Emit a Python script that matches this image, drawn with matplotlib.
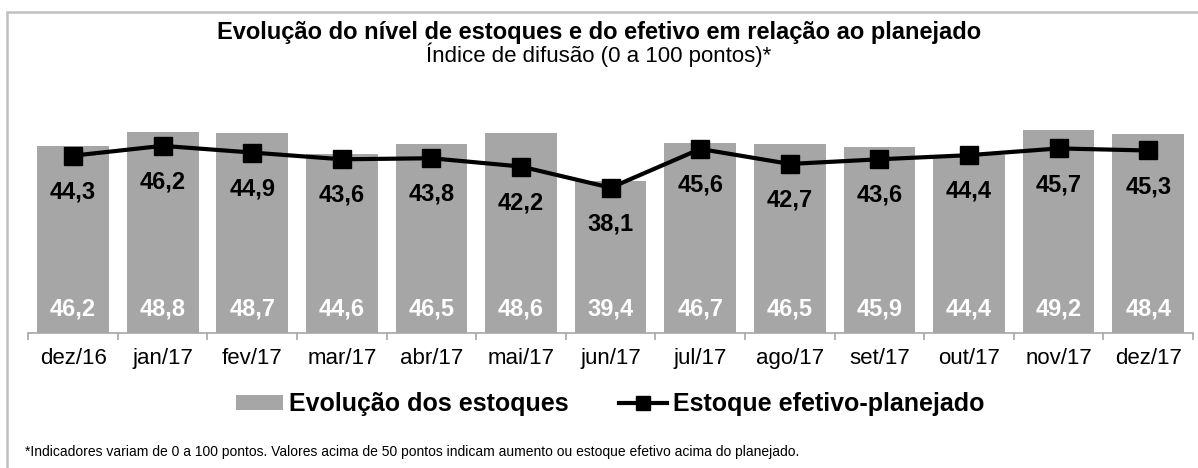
import numpy as np
import matplotlib
matplotlib.use('Agg')
import matplotlib.pyplot as plt
from matplotlib.patches import Rectangle, Patch
from matplotlib.lines import Line2D

# ============================================================
# dados
# ============================================================
meses = ['dez/16', 'jan/17', 'fev/17', 'mar/17', 'abr/17', 'mai/17', 'jun/17',
         'jul/17', 'ago/17', 'set/17', 'out/17', 'nov/17', 'dez/17']
estoques = [46.2, 48.8, 48.7, 44.6, 46.5, 48.6, 39.4, 46.7, 46.5, 45.9, 44.4, 49.2, 48.4]
efetivo_planejado = [44.3, 46.2, 44.9, 43.6, 43.8, 42.2, 38.1, 45.6, 42.7, 43.6, 44.4, 45.7, 45.3]

titulo = 'Evolução do nível de estoques e do efetivo em relação ao planejado'
subtitulo = 'Índice de difusão (0 a 100 pontos)*'
nota = ('*Indicadores variam de 0 a 100 pontos. Valores acima de 50 pontos indicam '
        'aumento ou estoque efetivo acima do planejado.')

plt.rcParams['font.family'] = ['Liberation Sans', 'DejaVu Sans']

BAR_COLOR = '#a6a6a6'
W, H = 1198, 468

fig = plt.figure(figsize=(W / 100, H / 100), dpi=100)

# moldura (só aparece esquerda e topo)
fig.patches.append(Rectangle((7 / W, -0.2), 1.2, 1 - 12 / H + 0.2, transform=fig.transFigure,
                             fill=False, edgecolor='#c0c0c0', linewidth=1.8))

ax = fig.add_axes([28.3 / W, 1 - 333 / H, (1193 - 28.3) / W, (333 - 74.5) / H])
x = np.arange(len(meses))

ax.bar(x, estoques, width=0.8, color=BAR_COLOR, zorder=1)
ax.plot(x, efetivo_planejado, color='black', linewidth=3, marker='s',
        markersize=13, zorder=3)

ax.set_xlim(-0.5, len(meses) - 0.5)
ax.set_ylim(10, 60)

for i, v in enumerate(estoques):
    ax.annotate(f'{v:.1f}'.replace('.', ','), xy=(i, 10), xytext=(0, 17),
                textcoords='offset points', ha='center', va='center',
                color='white', fontsize=17, fontweight='bold')
for i, v in enumerate(efetivo_planejado):
    ax.annotate(f'{v:.1f}'.replace('.', ','), xy=(i, v), xytext=(0, -26),
                textcoords='offset points', ha='center', va='center',
                color='black', fontsize=17, fontweight='bold', zorder=4)

for s in ['top', 'right', 'left']:
    ax.spines[s].set_visible(False)
ax.spines['bottom'].set_color('#a6a6a6')
ax.spines['bottom'].set_linewidth(1.2)
ax.set_yticks([])
ax.set_xticks(x)
ax.set_xticklabels(meses, fontsize=16)
ax.tick_params(axis='x', which='major', length=0, pad=11)
ax.set_xticks(np.arange(-0.5, len(meses)), minor=True)
ax.tick_params(axis='x', which='minor', length=5, color='#a6a6a6', width=1.2)

fig.text(0.5, 1 - 33 / H, titulo, ha='center', va='center', fontsize=17, fontweight='bold')
fig.text(0.5, 1 - 55 / H, subtitulo, ha='center', va='center', fontsize=16)

handles = [Patch(facecolor=BAR_COLOR, edgecolor='none'),
           Line2D([0], [0], color='black', linewidth=3, marker='s', markersize=10)]
fig.legend(handles, ['Evolução dos estoques', 'Estoque efetivo-planejado'],
           loc='center', bbox_to_anchor=(610 / W, 1 - 404 / H), ncol=2, frameon=False,
           prop={'weight': 'bold', 'size': 18}, handlelength=1.9, handletextpad=0.25,
           columnspacing=2.0, handleheight=0.55)

fig.text(25 / W, 1 - 452 / H, nota, ha='left', va='center', fontsize=10)

fig.savefig('out.png', dpi=100)
